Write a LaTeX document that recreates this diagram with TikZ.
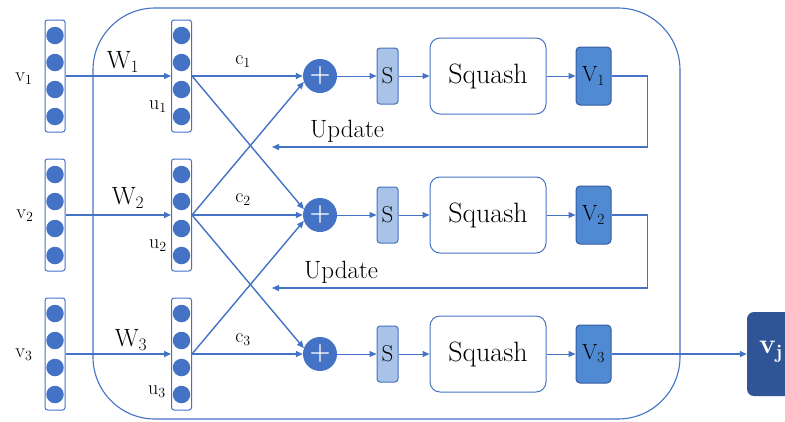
\documentclass[tikz,border=0pt]{standalone}
\usetikzlibrary{arrows.meta}
\definecolor{lineblue}{HTML}{4472C4}
\definecolor{sfill}{HTML}{A9C2E8}
\definecolor{vfill}{HTML}{4F8AD3}
\definecolor{vjfill}{HTML}{2F5597}
\tikzset{
  conn/.style={draw=lineblue, line width=1.4pt, -{Triangle[length=7pt,width=6pt]}},
  thinconn/.style={conn, line width=1pt},
  col/.style={draw=lineblue, line width=1pt, rounded corners=2.5pt, minimum width=20pt, minimum height=112pt, inner sep=0pt},
  dot/.style={circle, fill=lineblue, minimum size=17.5pt, inner sep=0pt},
  plus/.style={circle, fill=lineblue, minimum size=34pt, inner sep=0pt, text=white, font=\fontsize{24}{24}\selectfont\bfseries},
  sbox/.style={draw=lineblue, fill=sfill, line width=1pt, rounded corners=3pt, minimum width=21pt, minimum height=56pt, inner sep=0pt, font=\fontsize{23}{23}\selectfont},
  squash/.style={draw=lineblue, fill=white, line width=1pt, rounded corners=10pt, minimum width=116pt, minimum height=76pt, inner sep=0pt, font=\fontsize{28}{28}\selectfont},
  vbox/.style={draw=lineblue!80!black, fill=vfill, line width=1pt, rounded corners=4pt, minimum width=35pt, minimum height=58pt, inner sep=0pt, font=\fontsize{22}{22}\selectfont},
  lab/.style={font=\fontsize{20}{20}\selectfont, inner sep=0pt},
  wlab/.style={font=\fontsize{25}{25}\selectfont, inner sep=0pt},
  updlab/.style={font=\fontsize{25}{25}\selectfont, inner sep=0pt},
}
\begin{document}
\begin{tikzpicture}[x=1pt, y=-1pt]
  \useasboundingbox (0,0) rectangle (785,421);
  \clip (0,0) rectangle (785,421);
  \fill[white] (0,0) rectangle (785,421);

  % outer routing frame
  \draw[lineblue, line width=1.1pt, rounded corners=62pt] (93,8) rectangle (680,419);

  % the three rows: input vector, prediction vector, sum, squash, output
  \foreach \r/\y in {1/76, 2/215, 3/354} {
    \node[col] (v\r) at (55,\y) {};
    \node[col] (u\r) at (181.5,\y) {};
    \foreach \k/\dy in {1/-40.5, 2/-13.5, 3/13.5, 4/40.5} {
      \node[dot] (v\r d\k) at (55,{\y+\dy}) {};
      \node[dot] (u\r d\k) at (181.5,{\y+\dy}) {};
    }
    \node[plus] (p\r) at (320,\y) {+};
    \node[sbox] (s\r) at (387.5,\y) {S};
    \node[squash] (q\r) at (488,\y) {Squash};
    \node[vbox] (V\r) at (593.5,\y) {V\textsubscript{\r}};
    \draw[conn] (v\r) -- (u\r);
    \draw[conn] (u\r.east) -- (p\r.west);
    \draw[thinconn] (p\r) -- (s\r);
    \draw[thinconn] (s\r) -- (q\r);
    \draw[thinconn] (q\r) -- (V\r);
  }

  % labels
  \node[lab] (lv1) at (24,79) {v\textsubscript{1}};
  \node[lab] (lv2) at (25,216) {v\textsubscript{2}};
  \node[lab] (lv3) at (24,355) {v\textsubscript{3}};
  \node[lab] (lu1) at (158,107) {u\textsubscript{1}};
  \node[lab] (lu2) at (158,246) {u\textsubscript{2}};
  \node[lab] (lu3) at (157,392) {u\textsubscript{3}};
  \node[wlab] (lw1) at (123,62) {W\textsubscript{1}};
  \node[wlab] (lw2) at (128,198) {W\textsubscript{2}};
  \node[wlab] (lw3) at (131,340) {W\textsubscript{3}};
  \node[lab] (lc1) at (243,62) {c\textsubscript{1}};
  \node[lab] (lc2) at (243,200) {c\textsubscript{2}};
  \node[lab] (lc3) at (243,340) {c\textsubscript{3}};

  % crossing connections between the rows
  \draw[conn] (u1.east) -- (p2.160);
  \draw[conn] (u2.east) -- (p1.200);
  \draw[conn] (u2.east) -- (p3.160);
  \draw[conn] (u3.east) -- (p2.200);

  % routing feedback
  \coordinate (f1) at (272,147);
  \coordinate (f2) at (272,288);
  \draw[conn] (V1.east) -- ++(36,0) |- (f1);
  \draw[conn] (V2.east) -- ++(36,0) |- (f2);
  \node[updlab] (up1) at (347,131) {Update};
  \node[updlab] (up2) at (341,272) {Update};

  % final output
  \node[fill=vjfill, rounded corners=7pt, minimum width=66pt, minimum height=84pt] (vj) at (780,354) {};
  \node[text=white, font=\fontsize{28}{28}\selectfont\bfseries, inner sep=0pt] (vjlab) at (771,352) {v\textsubscript{j}};
  \draw[conn] (V3) -- (vj);
\end{tikzpicture}
\end{document}
